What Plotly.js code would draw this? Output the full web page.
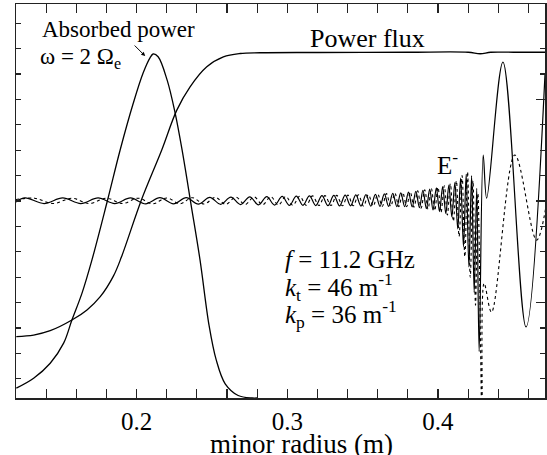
<!DOCTYPE html>
<html>
<head>
<meta charset="utf-8">
<script src="https://cdn.plot.ly/plotly-3.0.1.min.js"></script>
<style>html,body{margin:0;padding:0;background:#fff;}#chart{width:547px;height:455px;}</style>
</head>
<body>
<div id="chart"></div>
<script>
// Absorbed power (arbitrary units)
const absX = [0.1202,0.1317,0.1427,0.1516,0.1571,0.1638,0.1704,0.1806,0.1891,0.1978,0.2044,0.2090,0.2110,0.2143,0.2203,0.2256,0.2302,0.2362,0.2421,0.2481,0.2528,0.2588,0.2674,0.2767,0.2800];
const absY = [-7.37,-6.98,-6.39,-5.60,-4.69,-3.63,-2.32,0.00,2.01,3.85,5.05,5.65,5.79,5.68,4.76,3.46,2.01,-0.16,-2.32,-4.90,-6.25,-7.20,-7.66,-7.76,-7.76];
// Power flux
const fluxX = [0.1202,0.1317,0.1427,0.1571,0.1671,0.1759,0.1847,0.1900,0.2032,0.2167,0.2267,0.2355,0.2466,0.2576,0.2687,0.2819,0.3200,0.3800,0.4200,0.4280,0.4350,0.4500,0.4710];
const fluxY = [-5.34,-5.28,-5.11,-4.69,-4.29,-3.77,-2.95,-2.20,0.04,2.01,3.58,4.50,5.29,5.68,5.81,5.84,5.85,5.86,5.86,5.80,5.86,5.86,5.86];
// E- field, solid component
const eSolidX = [0.1200,0.1260,0.1386,0.1510,0.1630,0.1745,0.1855,0.1960,0.2060,0.2155,0.2245,0.2330,0.2410,0.2486,0.2558,0.2626,0.2690,0.2751,0.2809,0.2864,0.2916,0.2966,0.3014,0.3060,0.3104,0.3147,0.3189,0.3230,0.3270,0.3309,0.3347,0.3384,0.3420,0.3455,0.3489,0.3522,0.3554,0.3585,0.3615,0.3644,0.3672,0.3700,0.3727,0.3753,0.3779,0.3804,0.3829,0.3853,0.3877,0.3900,0.3923,0.3945,0.3967,0.3989,0.4010,0.4031,0.4052,0.4072,0.4092,0.4112,0.4131,0.4150,0.4169,0.4187,0.4205,0.4223,0.4240,0.4257,0.4273,0.4300,0.4323,0.4431,0.4584,0.4710];
const eSolidY = [-0.04,0.12,-0.10,0.12,-0.10,0.12,-0.10,0.12,-0.11,0.13,-0.11,0.13,-0.12,0.14,-0.13,0.15,-0.14,0.16,-0.15,0.17,-0.16,0.18,-0.17,0.19,-0.17,0.20,-0.18,0.21,-0.18,0.22,-0.19,0.23,-0.19,0.24,-0.20,0.25,-0.20,0.26,-0.21,0.28,-0.21,0.30,-0.22,0.32,-0.22,0.35,-0.23,0.38,-0.26,0.42,-0.30,0.47,-0.35,0.52,-0.42,0.57,-0.50,0.63,-0.62,0.72,-1.10,0.90,-1.80,1.05,-2.60,1.00,-3.60,0.50,-5.93,1.81,0.11,5.47,-4.96,5.00];
// E- field, dotted component
const eDotX = [0.1200,0.1323,0.1448,0.1570,0.1688,0.1800,0.1908,0.2010,0.2108,0.2200,0.2288,0.2370,0.2448,0.2522,0.2592,0.2658,0.2720,0.2780,0.2836,0.2890,0.2941,0.2990,0.3037,0.3082,0.3126,0.3168,0.3210,0.3250,0.3290,0.3328,0.3366,0.3402,0.3438,0.3472,0.3506,0.3538,0.3570,0.3600,0.3630,0.3658,0.3686,0.3714,0.3740,0.3766,0.3792,0.3816,0.3841,0.3865,0.3888,0.3912,0.3934,0.3956,0.3978,0.4000,0.4020,0.4042,0.4062,0.4082,0.4102,0.4122,0.4140,0.4160,0.4178,0.4196,0.4214,0.4232,0.4249,0.4265,0.4293,0.4306,0.4355,0.4510,0.4654,0.4720];
const eDotY = [0.06,0.11,-0.10,0.11,-0.10,0.11,-0.10,0.11,-0.11,0.12,-0.11,0.13,-0.12,0.14,-0.13,0.15,-0.14,0.16,-0.15,0.17,-0.16,0.18,-0.17,0.19,-0.17,0.20,-0.18,0.21,-0.18,0.22,-0.19,0.23,-0.19,0.24,-0.20,0.25,-0.20,0.27,-0.21,0.29,-0.21,0.31,-0.22,0.33,-0.22,0.36,-0.24,0.40,-0.28,0.44,-0.32,0.49,-0.38,0.54,-0.45,0.60,-0.55,0.68,-0.80,0.80,-1.40,1.00,-2.20,1.15,-3.00,0.80,-4.10,0.30,-9.00,-3.24,-4.38,1.81,-1.54,-0.09];

const xRange = [0.12, 0.471];
const yRange = [-7.76, 7.76];
const xTickVals = [0.2, 0.3, 0.4];
const xTickText = ['0.2', '0.3', '0.4'];

const FONT = '"Liberation Serif", "Times New Roman", "DejaVu Serif", serif';
const lineBase = {type:'scatter', mode:'lines', hoverinfo:'skip', showlegend:false};

const traces = [
  Object.assign({}, lineBase, {x: absX, y: absY, line:{color:'#000', width:1.3, shape:'spline', smoothing:1}}),
  Object.assign({}, lineBase, {x: fluxX, y: fluxY, line:{color:'#000', width:1.3, shape:'spline', smoothing:1}}),
  Object.assign({}, lineBase, {x: eSolidX, y: eSolidY, line:{color:'#000', width:1.2, shape:'spline', smoothing:1}}),
  Object.assign({}, lineBase, {x: eDotX, y: eDotY, line:{color:'#000', width:1.1, dash:'dot', shape:'spline', smoothing:1}}),
  Object.assign({}, lineBase, {x: [0.3], y: [0], yaxis:'y2', opacity:0, line:{width:0}})
];

const ann = (text, x, y, size, extra) => Object.assign({text, x, y, xref:'x', yref:'y', showarrow:false, xanchor:'left', yanchor:'middle', font:{family:FONT, size:size, color:'#000'}}, extra||{});

const layout = {
  width: 547, height: 455,
  margin: {l:16, r:2, t:4, b:57},
  paper_bgcolor:'#fff', plot_bgcolor:'#fff',
  font: {family: FONT, size: 25, color:'#000'},
  xaxis: {
    range: xRange, showgrid:false, zeroline:false,
    showline:true, linecolor:'#222', linewidth:1.5, mirror:'allticks',
    ticks:'inside', ticklen:9, tickwidth:1.2, tickcolor:'#222',
    tickvals: xTickVals, ticktext: xTickText,
    minor: {dtick:0.02, tick0:0, ticks:'inside', ticklen:5, tickwidth:1.2, tickcolor:'#222', showgrid:false},
    tickfont: {family: FONT, size: 25, color:'#000'}
  },
  yaxis: {
    range: yRange, showgrid:false, zeroline:false,
    showline:true, linecolor:'#222', linewidth:1.5,
    ticks:'inside', ticklen:5, tickwidth:1.2, tickcolor:'#222', dtick:1, tick0:0,
    showticklabels:false
  },
  yaxis2: {
    range: yRange, overlaying:'y', side:'right', showgrid:false, zeroline:false,
    showline:true, linecolor:'#222', linewidth:1.5,
    ticks:'inside', ticklen:9, tickwidth:1.2, tickcolor:'#222', dtick:4, tick0:0,
    minor: {dtick:1, tick0:0, ticks:'inside', ticklen:5, tickwidth:1.2, tickcolor:'#222', showgrid:false},
    showticklabels:false
  },
  annotations: [
    ann('Absorbed power', 0.1361, 6.77, 23),
    ann('ω = 2 Ω<sub>e</sub>', 0.1348, 5.62, 23),
    {x:0.2057, y:5.71, xref:'x', yref:'y', ax:-12, ay:-12, showarrow:true, arrowhead:2, arrowsize:0.8, arrowwidth:1, arrowcolor:'#000', text:''},
    ann('Power flux', 0.3138, 6.42, 26),
    ann('E<sup>-</sup>', 0.3980, 1.50, 25),
    ann('<i>f</i> = 11.2 GHz', 0.2972, -2.30, 25),
    ann('<i>k</i><sub>t</sub> = 46 m<sup>-1</sup>', 0.2972, -3.40, 25),
    ann('<i>k</i><sub>p</sub> = 36 m<sup>-1</sup>', 0.2972, -4.45, 25),
    {text:'minor radius (m)', x:0.3091, y:-0.116, xref:'x', yref:'paper', xanchor:'center', yanchor:'middle', showarrow:false, font:{family:FONT, size:27, color:'#000'}}
  ]
};

Plotly.newPlot('chart', traces, layout, {staticPlot:true, displayModeBar:false});
</script>
</body>
</html>
